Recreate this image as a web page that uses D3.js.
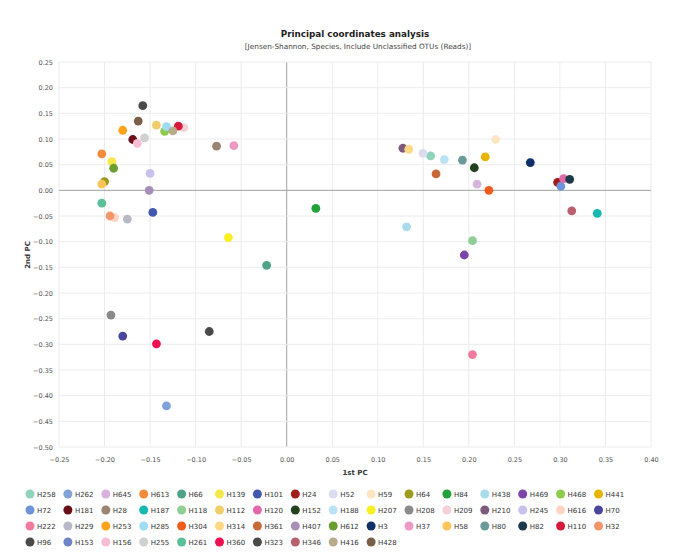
<!DOCTYPE html>
<html><head><meta charset="utf-8">
<script src="https://cdn.jsdelivr.net/npm/d3@7"></script>
<style>body{margin:0;background:#fff}svg{display:block}</style>
</head><body>
<script>
const names = ["H258","H262","H645","H613","H66","H139","H101","H24","H52","H59","H64","H84","H438","H469","H468","H441",
"H72","H181","H28","H187","H118","H112","H120","H152","H188","H207","H208","H209","H210","H245","H616","H70",
"H222","H229","H253","H285","H304","H314","H361","H407","H612","H3","H37","H58","H80","H82","H110","H32",
"H96","H153","H156","H255","H261","H360","H323","H346","H416","H428"];
const colors = ["#8fd3bd","#7fa3d8","#d9b3e0","#f28b3c","#4fa389","#f5e84a","#4457b0","#a31c1c","#dcdcf0","#fde5c4","#9e9a1e","#22a23a","#a8dcea","#7b44a8","#8fcb4a","#e8b400",
"#6f93d8","#6b0f1a","#9c8474","#16b8b0","#8fce94","#f0cf6a","#e06aaa","#22421e","#b9e3f5","#f8f020","#8a8a8a","#f5d0d8","#7d5a7d","#c9c0ec","#fdd5c5","#4a46a0",
"#f07aa0","#b8b8c8","#ffa41a","#9edcf5","#f05a1c","#ffd884","#c8693a","#a88fb8","#6a9e30","#10306a","#ec9ac4","#ffc55a","#6a9a9a","#1c3a4a","#d8183a","#f4956a",
"#4a4a4a","#6f83c8","#f8bcd4","#d0d0d0","#5ac09a","#f01050","#4a4a4a","#b86070","#b8ac88","#7a5e48"];
// PC1 / PC2 per sample (null = not visible)
const pc1 = [0.158,-0.132,0.209,-0.203,-0.022,-0.192,-0.147,0.2975,0.1496,0.2295,-0.200,0.032,0.1316,0.195,-0.134,0.218,
0.301,-0.169,-0.077,0.341,0.204,-0.143,0.304,0.206,0.173,-0.064,-0.193,-0.113,0.1276,-0.150,-0.189,-0.180,
0.204,-0.175,-0.180,-0.132,0.222,0.134,0.164,-0.151,-0.190,0.2675,-0.058,-0.203,0.193,0.3107,-0.119,-0.194,
-0.158,null,-0.164,-0.156,-0.203,-0.143,-0.085,0.313,-0.125,-0.163];
const pc2 = [0.067,-0.420,0.012,0.071,-0.146,0.056,-0.043,0.0155,0.072,0.099,0.017,-0.035,-0.071,-0.126,0.115,0.065,
0.008,0.099,0.086,-0.045,-0.098,0.127,0.023,0.044,0.060,-0.092,-0.243,0.122,0.082,0.033,-0.053,-0.284,
-0.320,-0.056,0.117,0.124,0.000,0.080,0.032,0.000,0.043,0.054,0.087,0.012,0.059,0.0215,0.125,-0.050,
0.165,null,0.0915,0.102,-0.025,-0.299,-0.275,-0.040,0.116,0.135];
const xTicks = d3.range(-0.25, 0.4001, 0.05);
const yTicks = d3.range(-0.50, 0.2501, 0.05);

const W = 677, H = 555;
const svg = d3.select("body").append("svg").attr("width", W).attr("height", H);
const x = d3.scaleLinear().domain([-0.25, 0.40]).range([59, 651]);
const y = d3.scaleLinear().domain([-0.50, 0.25]).range([447, 62]);
const font = "Verdana, 'DejaVu Sans', sans-serif";

svg.append("text").attr("x", 355).attr("y", 37).attr("text-anchor", "middle")
  .attr("font-family", font).attr("font-size", 8.8).attr("font-weight", "bold").attr("fill", "#222")
  .text("Principal coordinates analysis");
svg.append("text").attr("x", 358).attr("y", 49).attr("text-anchor", "middle")
  .attr("font-family", font).attr("font-size", 7.3).attr("fill", "#444")
  .text("[Jensen-Shannon, Species, Include Unclassified OTUs (Reads)]");

// grid
const g = svg.append("g");
g.selectAll(".vg").data(xTicks).join("line")
  .attr("x1", d => x(d)).attr("x2", d => x(d)).attr("y1", 62).attr("y2", 447)
  .attr("stroke", d => Math.abs(d) < 1e-9 ? "#a0a0a0" : "#ececec").attr("stroke-width", 1);
g.selectAll(".hg").data(yTicks).join("line")
  .attr("y1", d => y(d)).attr("y2", d => y(d)).attr("x1", 59).attr("x2", 651)
  .attr("stroke", d => Math.abs(d) < 1e-9 ? "#a0a0a0" : "#ececec").attr("stroke-width", 1);

// axes (labels only)
const xa = svg.append("g").attr("transform", "translate(0,447)")
  .call(d3.axisBottom(x).tickValues(xTicks).tickFormat(d3.format(".2f")).tickSize(0).tickPadding(10));
const ya = svg.append("g").attr("transform", "translate(59,0)")
  .call(d3.axisLeft(y).tickValues(yTicks).tickFormat(d3.format(".2f")).tickSize(0).tickPadding(6));
[xa, ya].forEach(a => {
  a.select(".domain").remove();
  a.selectAll("text").attr("font-family", font).attr("font-size", 6.5).attr("fill", "#555");
});
svg.append("text").attr("x", 355).attr("y", 475).attr("text-anchor", "middle")
  .attr("font-family", font).attr("font-size", 7).attr("font-weight", "bold").attr("fill", "#333").text("1st PC");
svg.append("text").attr("transform", "translate(30,255) rotate(-90)").attr("text-anchor", "middle")
  .attr("font-family", font).attr("font-size", 7).attr("font-weight", "bold").attr("fill", "#333").text("2nd PC");

// points
const pts = names.map((n, i) => ({n, c: colors[i], x: pc1[i], y: pc2[i]})).filter(d => d.x !== null);
svg.append("g").selectAll("circle").data(pts).join("circle")
  .attr("cx", d => x(d.x)).attr("cy", d => y(d.y)).attr("r", 4.4).attr("fill", d => d.c);

// legend
const lg = svg.append("g");
const items = lg.selectAll("g").data(names.map((n, i) => ({n, c: colors[i], i}))).join("g")
  .attr("transform", d => `translate(${30 + (d.i % 16) * 37.9},${494 + Math.floor(d.i / 16) * 16})`);
items.append("circle").attr("r", 4.5).attr("fill", d => d.c);
items.append("text").attr("x", 7).attr("y", 2.5).attr("font-family", font).attr("font-size", 7)
  .attr("fill", "#333").text(d => d.n);
</script>
</body></html>
